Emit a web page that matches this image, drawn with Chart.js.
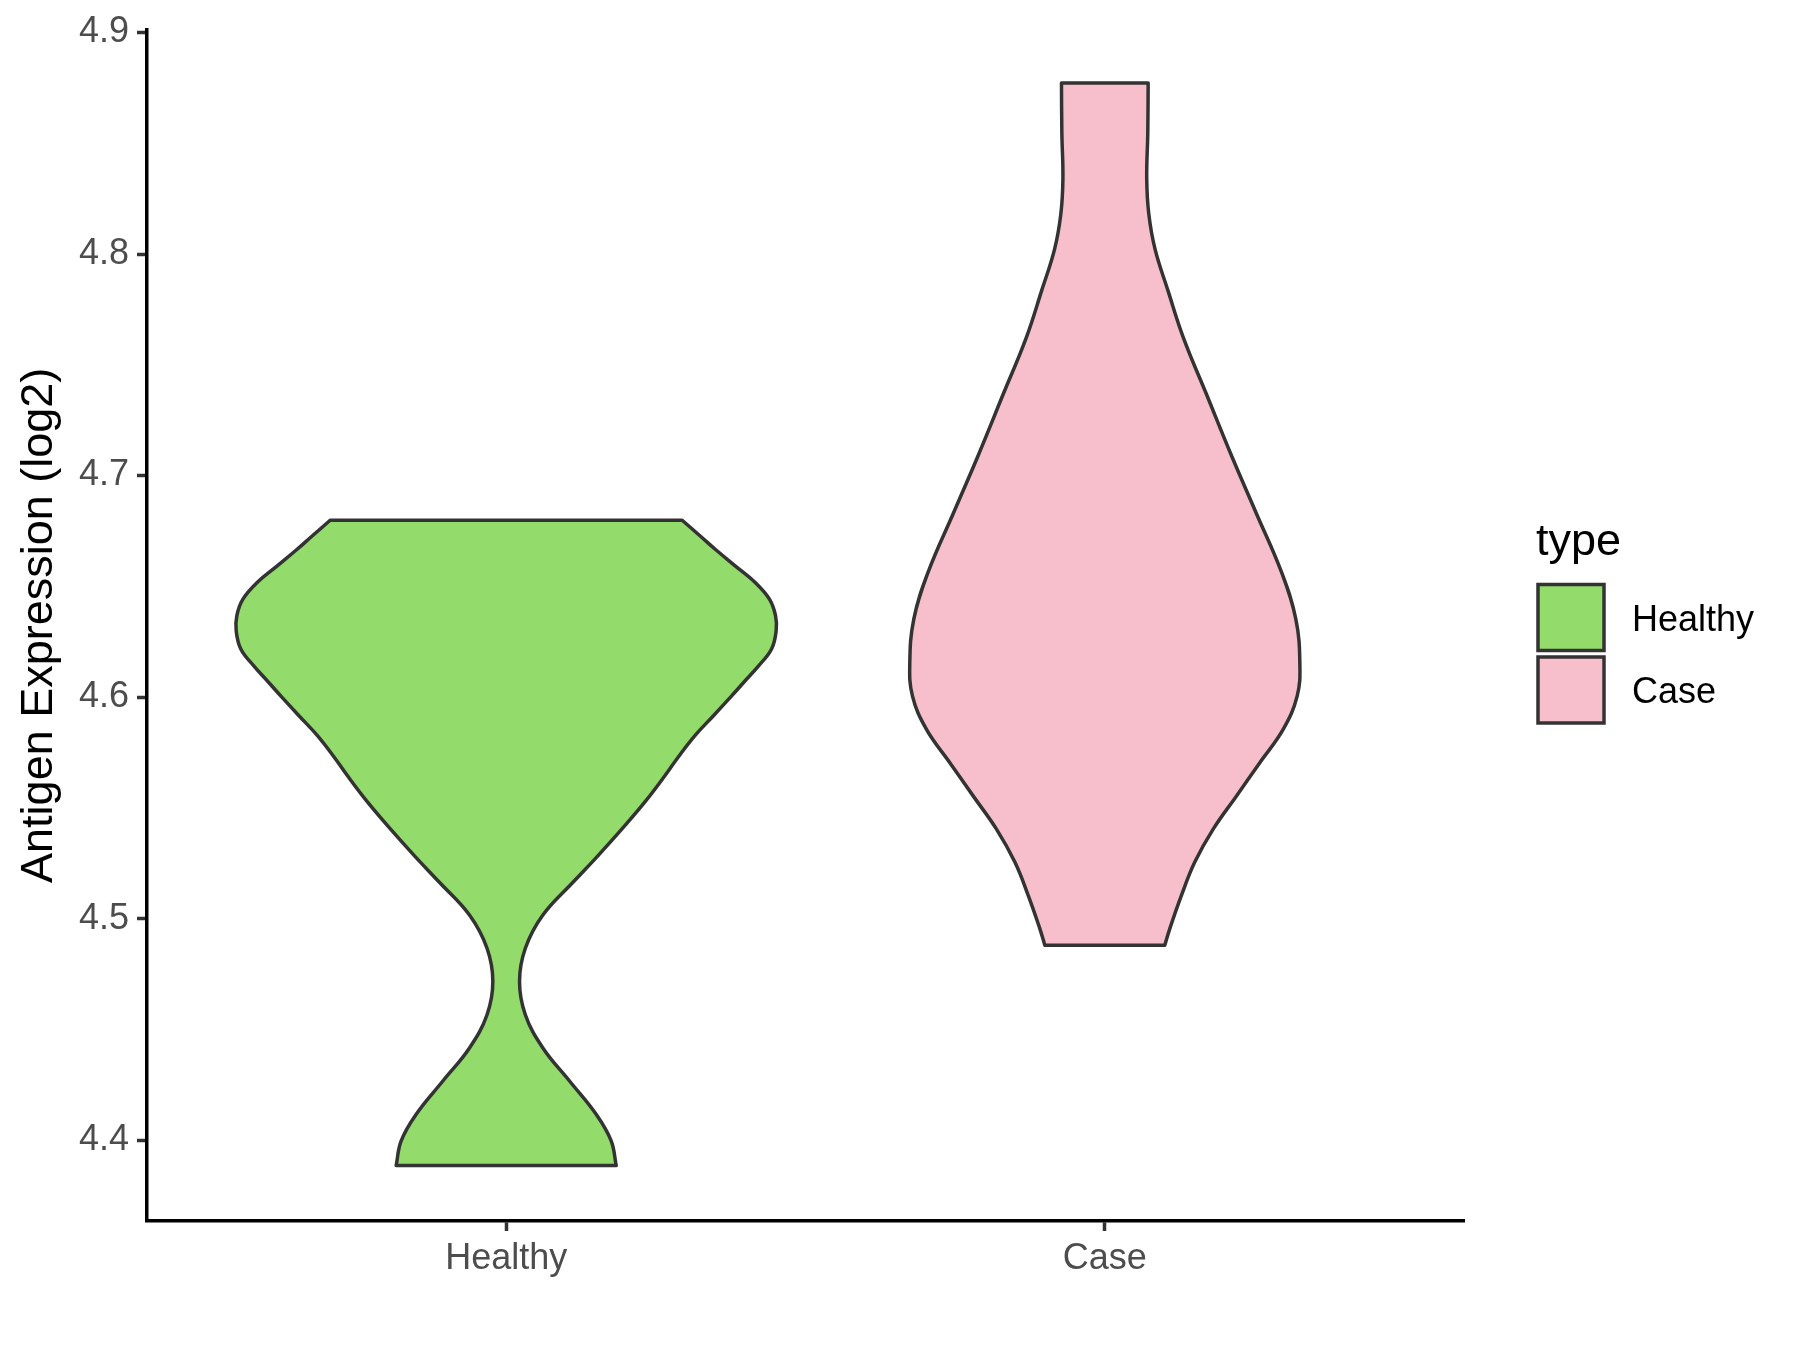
<!DOCTYPE html>
<html>
<head>
<meta charset="utf-8">
<title>Antigen Expression violin plot</title>
<script src="https://cdn.jsdelivr.net/npm/chart.js@4.4.1/dist/chart.umd.min.js"></script>
<style>
  html, body { margin: 0; padding: 0; background: #ffffff; }
  #wrap { width: 1800px; height: 1350px; }
</style>
</head>
<body>
<div id="wrap"><canvas id="chart" width="1800" height="1350"></canvas></div>
<script>
// ---------------- data ----------------
const categories = ['Healthy', 'Case'];
const legendTitle = 'type';
const yAxisTitle = 'Antigen Expression (log2)';
const yTickValues = [4.4, 4.5, 4.6, 4.7, 4.8, 4.9];

// violin outline: expression level (log2) and half-width (in category units)
const healthyLevels = [4.6798, 4.6726, 4.6666, 4.6591, 4.6516, 4.6441, 4.6367, 4.6299, 4.6217, 4.6142,
  4.6067, 4.600, 4.5918, 4.5828, 4.5723, 4.5648, 4.5529, 4.5405, 4.528, 4.5165,
  4.5016, 4.4866, 4.4716, 4.4566, 4.4416, 4.4267, 4.4117, 4.3997, 4.3885];
const healthyHalfWidths = [0.294, 0.3246, 0.3497, 0.383, 0.4165, 0.440, 0.450, 0.451, 0.4433, 0.422,
  0.397, 0.3748, 0.347, 0.316, 0.2857, 0.266, 0.2325, 0.1935, 0.152, 0.112,
  0.0613, 0.032, 0.0223, 0.032, 0.0613, 0.1058, 0.1503, 0.1754, 0.1838];

const caseLevels = [4.8772, 4.855, 4.834, 4.818, 4.8021, 4.7836, 4.7624, 4.7359, 4.7094, 4.683,
  4.6565, 4.6353, 4.6153, 4.6004, 4.5854, 4.5704, 4.5554, 4.5404, 4.5255, 4.5105,
  4.4955, 4.4880];
const caseHalfWidths = [0.0724, 0.0718, 0.0700, 0.0735, 0.0840, 0.1054, 0.131, 0.171, 0.211, 0.253,
  0.295, 0.319, 0.3258, 0.3213, 0.2979, 0.2589, 0.2200, 0.1810, 0.1503, 0.1280,
  0.1086, 0.1002];

// ---------------- styles ----------------
const FONT = '"Liberation Sans", Arial, Helvetica, sans-serif';
const fillColors = ['#93DB6A', '#F7BFCB'];
const outlineColor = '#333333';

// closed outline: top edge, right side down, bottom edge, left side up.
// the four corners are doubled so the spline keeps them sharp and the flat ends straight
function violinOutline(center, levels, hw) {
  const n = levels.length;
  const pts = [];
  pts.push({x: center - hw[0], y: levels[0]});
  pts.push({x: center + hw[0], y: levels[0]});
  for (let i = 0; i < n; i++) pts.push({x: center + hw[i], y: levels[i]});
  pts.push({x: center + hw[n - 1], y: levels[n - 1]});
  pts.push({x: center - hw[n - 1], y: levels[n - 1]});
  for (let i = n - 1; i >= 0; i--) pts.push({x: center - hw[i], y: levels[i]});
  pts.push({x: center - hw[0], y: levels[0]});
  return pts;
}

const series = [
  {levels: healthyLevels, hw: healthyHalfWidths},
  {levels: caseLevels, hw: caseHalfWidths}
];

const datasets = series.map((s, i) => ({
  label: categories[i],
  data: violinOutline(i + 1, s.levels, s.hw),
  backgroundColor: fillColors[i],
  borderColor: outlineColor,
  borderWidth: 3.5,
  fill: 'shape',
  tension: 0.4,
  pointRadius: 0,
  pointHoverRadius: 0,
  borderJoinStyle: 'round',
  borderCapStyle: 'round'
}));

const legendPlugin = {
  id: 'typeLegend',
  afterDraw(chart) {
    const {ctx, chartArea} = chart;
    const x0 = chartArea.right + 74;
    ctx.save();
    ctx.fillStyle = '#000000';
    ctx.font = '45px ' + FONT;
    ctx.textAlign = 'left';
    ctx.textBaseline = 'alphabetic';
    ctx.fillText(legendTitle, x0 - 2, 555);
    categories.forEach((c, i) => {
      const top = 584.5 + i * 72.5;
      ctx.fillStyle = fillColors[i];
      ctx.fillRect(x0, top, 66, 66);
      ctx.strokeStyle = outlineColor;
      ctx.lineWidth = 3.5;
      ctx.strokeRect(x0, top, 66, 66);
      ctx.fillStyle = '#000000';
      ctx.font = '36px ' + FONT;
      ctx.textBaseline = 'alphabetic';
      ctx.fillText(c, x0 + 94, top + 46);
    });
    ctx.restore();
  }
};

const axisGrid = {
  drawOnChartArea: false,
  drawTicks: true,
  tickLength: 10,
  tickColor: outlineColor,
  tickWidth: 3.5
};

new Chart(document.getElementById('chart'), {
  type: 'line',
  data: {datasets},
  plugins: [legendPlugin],
  options: {
    responsive: false,
    animation: false,
    events: [],
    layout: {padding: {top: 23, right: 336, bottom: 0, left: 0}},
    plugins: {
      legend: {display: false},
      tooltip: {enabled: false},
      title: {display: false}
    },
    scales: {
      x: {
        type: 'linear',
        min: 0.4,
        max: 2.6,
        afterBuildTicks: s => { s.ticks = categories.map((c, i) => ({value: i + 1})); },
        afterFit: s => { s.height = 129; },
        ticks: {
          callback: v => categories[Math.round(v) - 1],
          color: '#4D4D4D',
          font: {size: 36, family: FONT},
          padding: 6,
          maxRotation: 0,
          autoSkip: false
        },
        grid: axisGrid,
        border: {display: true, color: '#000000', width: 3.5}
      },
      y: {
        type: 'linear',
        min: 4.3635,
        max: 4.9013,
        afterBuildTicks: s => { s.ticks = yTickValues.map(v => ({value: v})); },
        afterFit: s => { s.width = 147; },
        ticks: {
          callback: v => Number(v).toFixed(1),
          color: '#4D4D4D',
          font: {size: 36, family: FONT},
          padding: 8
        },
        grid: axisGrid,
        border: {display: true, color: '#000000', width: 3.5},
        title: {
          display: true,
          text: yAxisTitle,
          color: '#000000',
          font: {size: 45, family: FONT},
          padding: {top: 13, bottom: 0}
        }
      }
    }
  }
});
</script>
</body>
</html>
